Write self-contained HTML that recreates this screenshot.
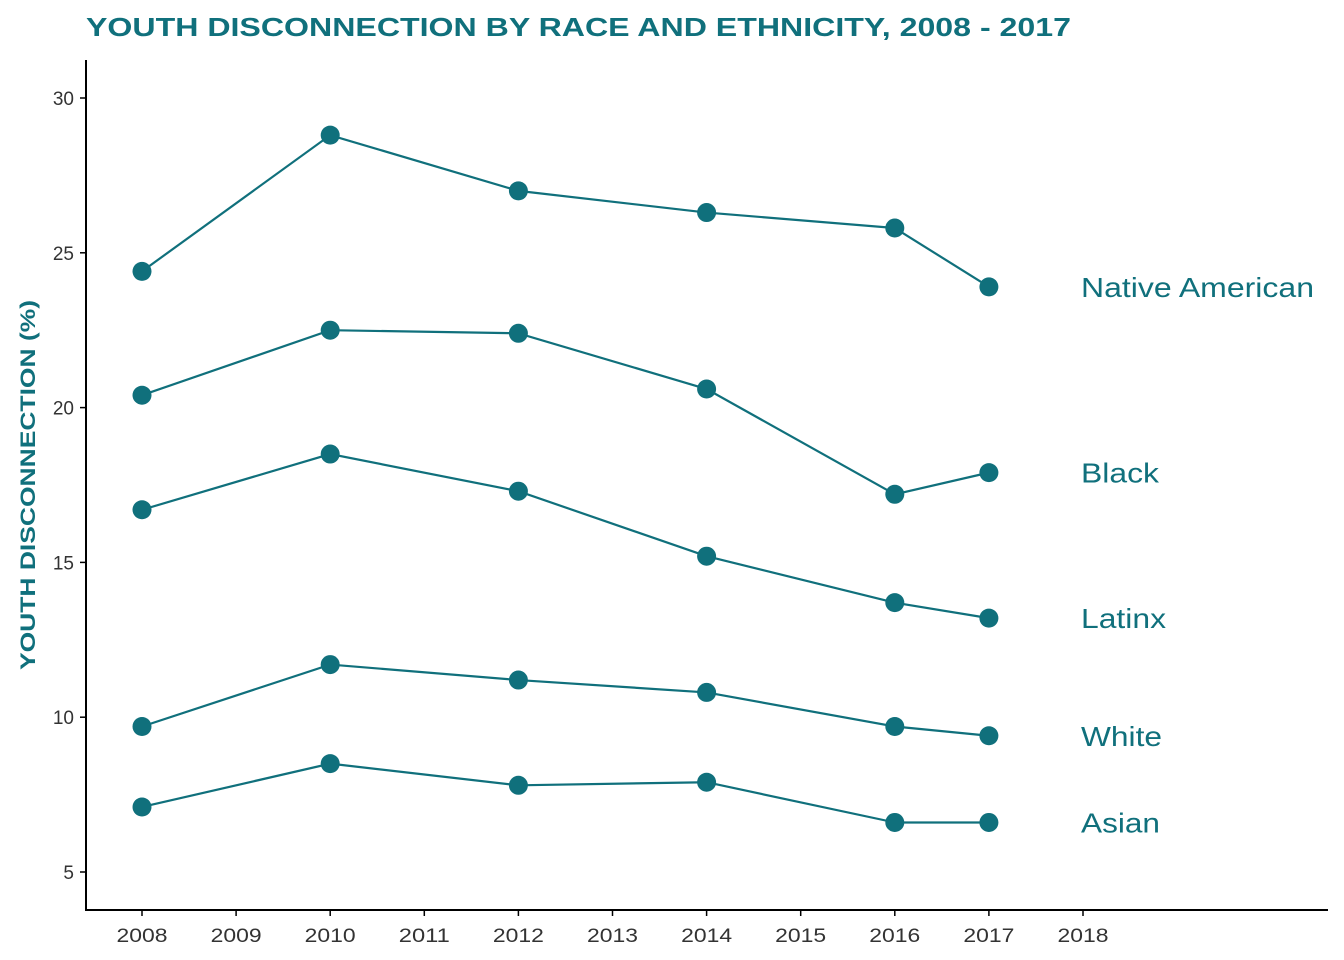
<!DOCTYPE html>
<html><head><meta charset="utf-8"><style>
body{margin:0;background:#fff}
svg{display:block;font-family:"Liberation Sans",Arial,sans-serif}
</style></head><body>
<svg id="chart" width="1344" height="960" viewBox="0 0 1344 960">
<text x="86" y="36" font-size="26" font-weight="bold" fill="#10707c" textLength="985" lengthAdjust="spacingAndGlyphs">YOUTH DISCONNECTION BY RACE AND ETHNICITY, 2008 - 2017</text>
<text transform="translate(35,485) rotate(-90)" text-anchor="middle" font-size="21" font-weight="bold" fill="#10707c" textLength="370" lengthAdjust="spacingAndGlyphs">YOUTH DISCONNECTION (%)</text>
<line x1="86" y1="60" x2="86" y2="911" stroke="#000" stroke-width="2"/>
<line x1="85" y1="910" x2="1328" y2="910" stroke="#000" stroke-width="2"/>
<g id="ticks"></g>
<g id="series"></g>
</svg>
<script>
const years=[2008,2010,2012,2014,2016,2017];
const xTickLabels=[2008,2009,2010,2011,2012,2013,2014,2015,2016,2017,2018];
const yTickLabels=[5,10,15,20,25,30];
const seriesNames=["Native American","Black","Latinx","White","Asian"];
const nativeAmerican=[24.4,28.8,27.0,26.3,25.8,23.9];
const black=[20.4,22.5,22.4,20.6,17.2,17.9];
const latinx=[16.7,18.5,17.3,15.2,13.7,13.2];
const white=[9.7,11.7,11.2,10.8,9.7,9.4];
const asian=[7.1,8.5,7.8,7.9,6.6,6.6];
const seriesValues=[nativeAmerican,black,latinx,white,asian];
const labelWidths=[233,78,85,81,79];
const C="#10707c";
const x=v=>142+(v-2008)*94.1;
const y=v=>872-(v-5)*30.96;
const NS="http://www.w3.org/2000/svg";
function mk(t,a,p){const e=document.createElementNS(NS,t);for(const k in a)e.setAttribute(k,a[k]);p.appendChild(e);return e;}
const tg=document.getElementById('ticks');
yTickLabels.forEach(v=>{
 const l=mk('line',{x1:80,x2:86,y1:y(v),y2:y(v),stroke:'#000','stroke-width':1.5},tg);
 
 
 const t=mk('text',{x:74,y:y(v)+7,'text-anchor':'end','font-size':19,fill:'#333'},tg);
 t.textContent=v;
 
 
});
xTickLabels.forEach(v=>{
 const l=mk('line',{x1:x(v),x2:x(v),y1:910,y2:916,stroke:'#000','stroke-width':1.5},tg);
 
 
 const t=mk('text',{x:x(v),y:942,'text-anchor':'middle','font-size':19,fill:'#333',textLength:51,lengthAdjust:'spacingAndGlyphs'},tg);
 t.textContent=v;
 
 
});
const sg=document.getElementById('series');
seriesValues.forEach((vals,i)=>{
 const g=mk('g',{},sg);
 
 
 const p=mk('polyline',{points:vals.map((v,j)=>x(years[j])+','+y(v)).join(' '),fill:'none',stroke:C,'stroke-width':2.2},g);
 
 
 vals.forEach((v,j)=>{
  const c=mk('circle',{cx:x(years[j]),cy:y(v),r:9.5,fill:C},g);
  
  
 });
 const t=mk('text',{x:x(2018)-2,y:y(vals[5])+10,'font-size':28,fill:C,textLength:labelWidths[i],lengthAdjust:'spacingAndGlyphs'},g);
 t.textContent=seriesNames[i];
 
 
});
</script>
</body></html>
